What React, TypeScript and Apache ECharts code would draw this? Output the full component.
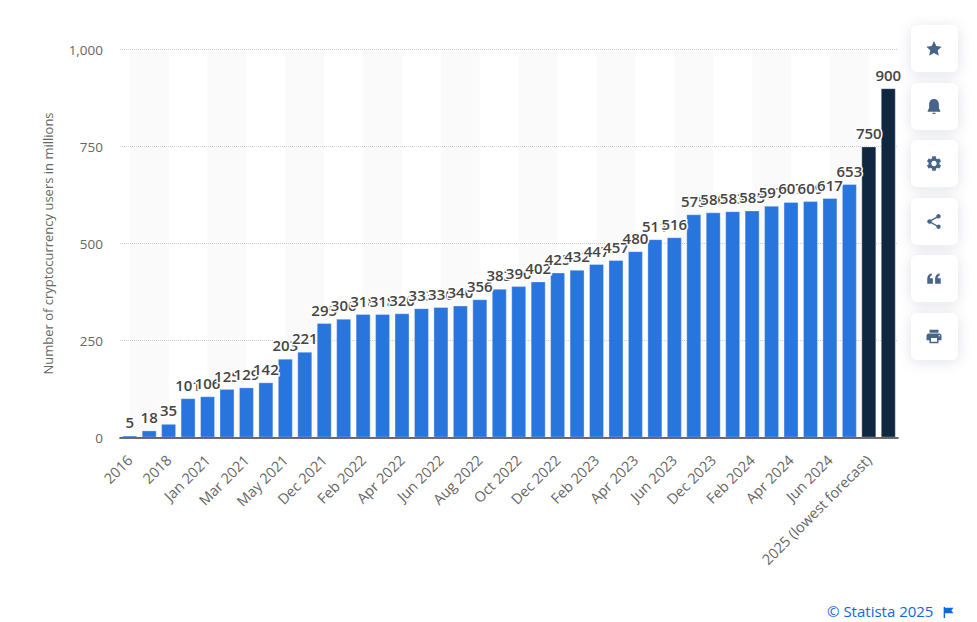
import React, { useEffect, useRef } from "react";
import * as echarts from "echarts";

const categories = ["2016","2017","2018","2020","Jan 2021","Feb 2021","Mar 2021","Apr 2021","May 2021","Jun 2021","Dec 2021","Jan 2022","Feb 2022","Mar 2022","Apr 2022","May 2022","Jun 2022","Jul 2022","Aug 2022","Sep 2022","Oct 2022","Nov 2022","Dec 2022","Jan 2023","Feb 2023","Mar 2023","Apr 2023","May 2023","Jun 2023","Nov 2023","Dec 2023","Jan 2024","Feb 2024","Mar 2024","Apr 2024","May 2024","Jun 2024","Dec 2024","2025 (lowest forecast)","2025 (highest forecast)"];
const users = [5,18,35,101,106,125,129,142,203,221,295,306,318,318,320,333,336,340,356,383,390,402,425,432,447,457,480,511,516,575,580,583,585,597,607,609,617,653,750,900];
const forecastStart = 38;
const bandStarts = [0,4,8,12,16,20,24,28,32,36];
const yTicks = [0,250,500,750,1000];

const iconPaths: Record<string,string> = {
  star: "M12 2l3.1 6.6 7.1.9-5.2 4.9 1.4 7.1L12 18l-6.4 3.5 1.4-7.1L1.8 9.5l7.1-.9z",
  bell: "M12 2c-4 0-6.5 3-6.5 7v5L3.5 18v1h17v-1L18.5 14V9c0-4-2.5-7-6.5-7z M10 20.2h4v1.8h-4z",
  cog: "M19.14 12.94c.04-.3.06-.61.06-.94 0-.32-.02-.64-.07-.94l2.03-1.58c.18-.14.23-.41.12-.61l-1.92-3.32c-.12-.22-.37-.29-.59-.22l-2.39.96c-.5-.38-1.03-.7-1.62-.94l-.36-2.54c-.04-.24-.24-.41-.48-.41h-3.84c-.24 0-.43.17-.47.41l-.36 2.54c-.59.24-1.13.57-1.62.94l-2.39-.96c-.22-.08-.47 0-.59.22L2.74 8.87c-.12.21-.08.47.12.61l2.03 1.58c-.05.3-.09.63-.09.94s.02.64.07.94l-2.03 1.58c-.18.14-.23.41-.12.61l1.92 3.32c.12.22.37.29.59.22l2.39-.96c.5.38 1.03.7 1.62.94l.36 2.54c.05.24.24.41.48.41h3.84c.24 0 .44-.17.47-.41l.36-2.54c.59-.24 1.13-.56 1.62-.94l2.39.96c.22.08.47 0 .59-.22l1.92-3.32c.12-.22.07-.47-.12-.61l-2.01-1.58zM12 15.6c-1.98 0-3.6-1.62-3.6-3.6s1.62-3.6 3.6-3.6 3.6 1.62 3.6 3.6-1.62 3.6-3.6 3.6z",
  share: "M18 16.08c-.76 0-1.44.3-1.96.77L8.91 12.7c.05-.23.09-.46.09-.7s-.04-.47-.09-.7l7.05-4.11c.54.5 1.25.81 2.04.81 1.66 0 3-1.34 3-3s-1.34-3-3-3-3 1.34-3 3c0 .24.04.47.09.7L8.04 9.81C7.5 9.31 6.79 9 6 9c-1.66 0-3 1.34-3 3s1.34 3 3 3c.79 0 1.5-.31 2.04-.81l7.12 4.16c-.05.21-.08.43-.08.65 0 1.61 1.31 2.92 2.92 2.92s2.92-1.31 2.92-2.92-1.31-2.92-2.92-2.92z",
  quote: "M3 19V12c0-3.5 2-6 6-7v3C7.5 8.5 6.5 9.5 6.5 11.5H10.5V19z M13.5 19V12c0-3.5 2-6 6-7v3C18 8.5 17 9.5 17 11.5H21V19z",
  print: "M19 8H5c-1.66 0-3 1.34-3 3v6h4v4h12v-4h4v-6c0-1.66-1.34-3-3-3zm-3 11H8v-5h8v5zm3-7c-.55 0-1-.45-1-1s.45-1 1-1 1 .45 1 1-.45 1-1 1zm-1-9H6v4h12V3z",
  flag: "M3 2h2.5v20H3z M5.5 3H21l-4 5 4 5H5.5z",
};
Object.keys(iconPaths).forEach((k) => {
  echarts.graphic.registerShape("icon-" + k, echarts.graphic.extendPath(iconPaths[k], {}) as any);
});

const buttons = [
  { icon: "star", y: 25 },
  { icon: "bell", y: 83 },
  { icon: "cog", y: 140 },
  { icon: "share", y: 198 },
  { icon: "quote", y: 255 },
  { icon: "print", y: 313 },
];

const font = "'Open Sans', sans-serif";

export default function App() {
  const ref = useRef<HTMLDivElement>(null);
  useEffect(() => {
    const chart = echarts.init(ref.current!, undefined, { renderer: "svg" });
    const graphic: any[] = [];
    buttons.forEach((b) => {
      graphic.push({
        type: "rect", z: 20,
        shape: { x: 911, y: b.y, width: 47, height: 47, r: 7 },
        style: { fill: "#fff", shadowBlur: 14, shadowColor: "rgba(30,50,90,0.12)", shadowOffsetY: 2 },
      });
      graphic.push({
        type: "icon-" + b.icon, z: 21, x: 925, y: b.y + 14.5, scaleX: 0.75, scaleY: 0.75,
        style: { fill: "#47648a" },
      });
    });
    graphic.push({
      type: "text", z: 21, x: 827, y: 603.5,
      style: { text: "© Statista 2025", font: `15px ${font}`, fill: "#0a6ae0" },
    });
    graphic.push({
      type: "icon-flag", z: 21, x: 942, y: 606, scaleX: 0.55, scaleY: 0.55,
      style: { fill: "#0a6ae0" },
    });

    chart.setOption({
      animation: false,
      backgroundColor: "#fff",
      textStyle: { fontFamily: font },
      grid: { left: 120, right: 79, top: 49.5, bottom: 184.5, containLabel: false },
      xAxis: {
        type: "category",
        data: categories,
        z: 5,
        axisTick: { show: false },
        axisLine: { show: true, lineStyle: { color: "#3c3c3c", width: 1.6 } },
        axisLabel: { interval: 1, rotate: 45, margin: 20, color: "#666", fontSize: 14.5, fontFamily: font },
        splitLine: { show: false },
      },
      yAxis: {
        type: "value",
        min: yTicks[0],
        max: yTicks[yTicks.length - 1],
        interval: yTicks[1] - yTicks[0],
        name: "Number of cryptocurrency users in millions",
        nameLocation: "middle",
        nameGap: 66,
        nameTextStyle: { color: "#666", fontSize: 13, fontFamily: font },
        axisLine: { show: false },
        axisTick: { show: false },
        axisLabel: {
          color: "#666", fontSize: 13.5, margin: 17, fontFamily: font, padding: [2, 0, 0, 0],
          formatter: (v: number) => v.toLocaleString("en-US"),
        },
        splitLine: { show: true, lineStyle: { color: "#d0d0d0", type: "dotted", width: 1 } },
      },
      series: [
        {
          type: "custom",
          z: 1,
          silent: true,
          data: bandStarts.map((s) => [s, yTicks[0]]),
          encode: { x: 0, y: 1 },
          renderItem: (p: any, api: any) => {
            const s = bandStarts[p.dataIndexInside];
            const a = api.coord([s, yTicks[yTicks.length - 1]]);
            const b = api.coord([s + 2, yTicks[0]]);
            return {
              type: "rect",
              shape: { x: a[0], y: a[1], width: b[0] - a[0], height: b[1] - a[1] },
              style: { fill: "rgba(0,0,0,0.02)" },
            };
          },
        },
        {
          type: "bar",
          z: 3,
          barWidth: 14.8,
          data: users.map((v, i) => ({
            value: v,
            itemStyle: {
              color: i >= forecastStart ? "#0f2741" : "#2975de",
              borderColor: "rgba(255,255,255,0.4)",
              borderWidth: 0.8,
            },
          })),
          label: {
            show: true,
            position: "top",
            distance: 6,
            color: "#444",
            fontSize: 15,
            fontWeight: 600,
            fontFamily: font,
            textBorderColor: "#fff",
            textBorderWidth: 3,
          },
        },
      ],
      graphic,
    });
    return () => chart.dispose();
  }, []);
  return <div ref={ref} style={{ position: "fixed", left: 0, top: 0, width: 977, height: 622 }} />;
}
